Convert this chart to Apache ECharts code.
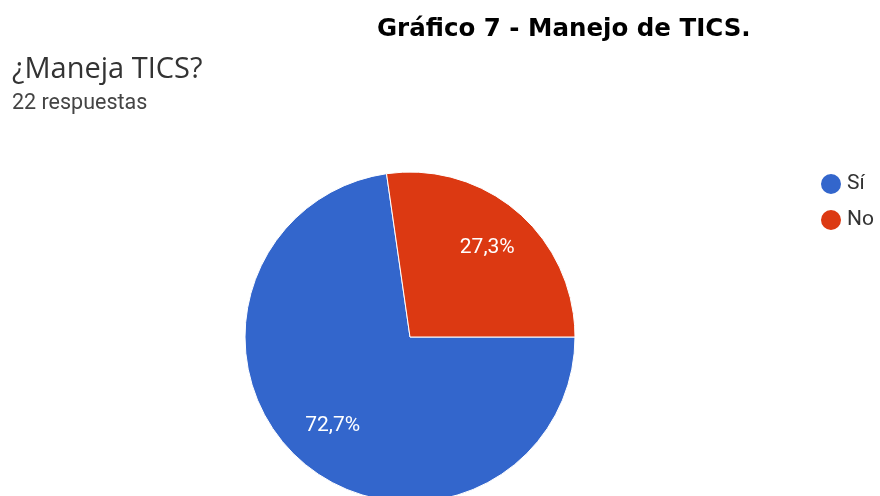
<!DOCTYPE html>
<html>
<head>
<meta charset="utf-8">
<script src="https://cdn.jsdelivr.net/npm/echarts@6/dist/echarts.min.js"></script>
<style>
  html, body { margin: 0; padding: 0; background: #ffffff; }
  #chart { width: 880px; height: 496px; }
</style>
</head>
<body>
<div id="chart"></div>
<script>
// Survey answers: "¿Maneja TICS?" (22 responses)
const categories = ['Sí', 'No'];
const counts = [16, 6];
const sliceColors = ['#3366cc', '#dc3912'];

const total = counts.reduce((a, b) => a + b, 0);
const pieData = categories.map((name, i) => ({
  name: name,
  value: counts[i],
  itemStyle: { color: sliceColors[i] }
}));

function pctLabel(p) {
  return (p.value / total * 100).toFixed(1).replace('.', ',') + '%';
}

const chart = echarts.init(document.getElementById('chart'), null, { renderer: 'canvas' });

chart.setOption({
  backgroundColor: '#ffffff',
  animation: false,
  title: [
    {
      text: 'Gráfico 7 - Manejo de TICS.',
      left: 377, top: 17, padding: 0,
      textStyle: { fontFamily: 'DejaVu Sans', fontWeight: 'bold', fontSize: 24.5, color: '#000000' }
    },
    {
      text: '¿Maneja TICS?',
      left: 12, top: 55, padding: 0,
      textStyle: { fontFamily: 'Open Sans', fontWeight: 'normal', fontSize: 29, color: '#333333' }
    },
    {
      text: '22 respuestas',
      left: 12, top: 93, padding: 0,
      textStyle: { fontFamily: 'Roboto', fontWeight: 'normal', fontSize: 21.5, color: '#444444' }
    }
  ],
  legend: {
    orient: 'vertical',
    left: 819, top: 172, padding: 0,
    icon: 'circle',
    itemWidth: 22, itemHeight: 22,
    itemGap: 12,
    data: categories,
    textStyle: { fontFamily: 'Roboto', fontSize: 21, color: '#333333' }
  },
  series: [
    {
      type: 'pie',
      center: [410, 337],
      radius: [0, 165],
      startAngle: 0,
      clockwise: true,
      silent: true,
      data: pieData,
      itemStyle: { borderColor: '#ffffff', borderWidth: 1 },
      label: { show: false },
      labelLine: { show: false }
    },
    {
      // invisible ring that only places the percentage labels
      type: 'pie',
      center: [410, 337],
      radius: [98, 132],
      startAngle: 0,
      clockwise: true,
      silent: true,
      data: pieData.map(d => ({ name: d.name, value: d.value, itemStyle: { color: 'rgba(0,0,0,0)' } })),
      itemStyle: { borderWidth: 0 },
      label: {
        show: true,
        position: 'inside',
        formatter: pctLabel,
        fontFamily: 'Roboto',
        fontSize: 21,
        color: '#ffffff'
      },
      labelLine: { show: false }
    }
  ]
});
</script>
</body>
</html>
